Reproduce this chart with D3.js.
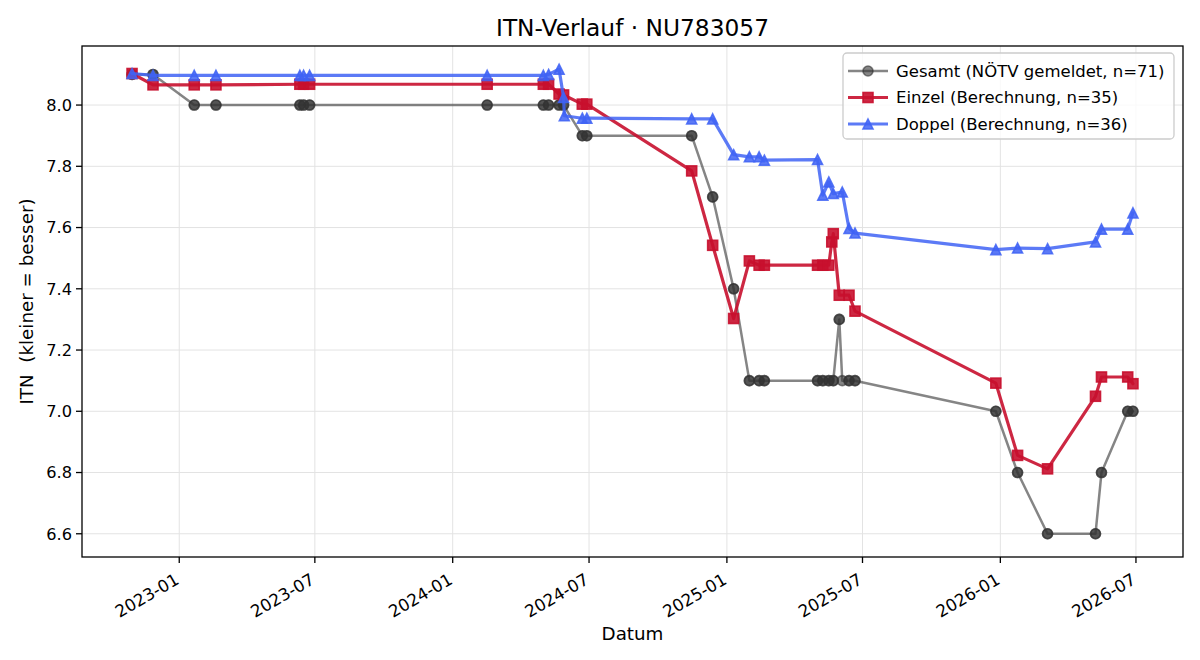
<!DOCTYPE html>
<html>
<head>
<meta charset="utf-8">
<script src="https://cdn.jsdelivr.net/npm/d3@7"></script>
<style>
  body { margin: 0; background: #fff; }
  svg { font-family: "DejaVu Sans", sans-serif; }
</style>
</head>
<body>
<svg id="chart" width="1200" height="660"></svg>
<script>
// Gesamt (reported) - most dates appear twice (once per Einzel / Doppel entry)
var gesamtDates = ['2022-10-30','2022-10-30','2022-11-27','2022-11-27','2023-01-21','2023-01-21','2023-02-19','2023-02-19',
  '2023-06-11','2023-06-11','2023-06-16','2023-06-16','2023-06-24','2023-06-24','2024-02-16','2024-02-16',
  '2024-05-01','2024-05-01','2024-05-08','2024-05-08','2024-05-22','2024-05-22','2024-05-28','2024-05-28',
  '2024-06-22','2024-06-22','2024-06-28','2024-06-28','2024-11-15','2024-11-15','2024-12-13','2024-12-13',
  '2025-01-10','2025-01-10','2025-01-31','2025-01-31','2025-02-13','2025-02-13','2025-02-20','2025-02-20',
  '2025-05-02','2025-05-02','2025-05-09','2025-05-09','2025-05-17','2025-05-17','2025-05-23','2025-05-23',
  '2025-05-31','2025-05-31','2025-06-04','2025-06-13','2025-06-13','2025-06-21','2025-06-21',
  '2025-12-26','2025-12-26','2026-01-24','2026-01-24','2026-03-05','2026-03-05','2026-05-08','2026-05-08',
  '2026-05-16','2026-05-16','2026-06-20','2026-06-20','2026-06-27','2026-06-27'];
var gesamtVals = [8.1,8.1,8.1,8.1,8.0,8.0,8.0,8.0,
  8.0,8.0,8.0,8.0,8.0,8.0,8.0,8.0,
  8.0,8.0,8.0,8.0,8.0,8.0,8.0,8.0,
  7.9,7.9,7.9,7.9,7.9,7.9,7.7,7.7,
  7.4,7.4,7.1,7.1,7.1,7.1,7.1,7.1,
  7.1,7.1,7.1,7.1,7.1,7.1,7.1,7.1,
  7.3,7.3,7.1,7.1,7.1,7.1,7.1,
  7.0,7.0,6.8,6.8,6.6,6.6,6.6,6.6,
  6.8,6.8,7.0,7.0,7.0,7.0];

// Einzel (computed)
var einzelDates = ['2022-10-30','2022-11-27','2023-01-21','2023-02-19','2023-06-11','2023-06-16','2023-06-24',
  '2024-02-16','2024-05-01','2024-05-08','2024-05-22','2024-05-28','2024-06-22','2024-06-28',
  '2024-11-15','2024-12-13','2025-01-10','2025-01-31','2025-02-13','2025-02-20',
  '2025-05-02','2025-05-09','2025-05-17','2025-05-21','2025-05-23','2025-05-31','2025-06-13','2025-06-21',
  '2025-12-26','2026-01-24','2026-03-05','2026-05-08','2026-05-16','2026-06-20','2026-06-27'];
var einzelVals = [8.103,8.066,8.066,8.066,8.068,8.068,8.068,
  8.068,8.068,8.068,8.036,8.033,8.003,8.003,
  7.785,7.542,7.303,7.491,7.477,7.477,
  7.477,7.477,7.477,7.553,7.58,7.379,7.379,7.327,
  7.092,6.856,6.812,7.049,7.112,7.112,7.09];

// Doppel (computed)
var doppelDates = ['2022-10-30','2022-11-27','2023-01-21','2023-02-19','2023-06-11','2023-06-16','2023-06-24',
  '2024-02-16','2024-05-01','2024-05-08','2024-05-22','2024-05-28','2024-05-29','2024-06-22','2024-06-28',
  '2024-11-15','2024-12-13','2025-01-10','2025-01-31','2025-02-13','2025-02-20',
  '2025-05-02','2025-05-09','2025-05-17','2025-05-23','2025-06-04','2025-06-13','2025-06-21',
  '2025-12-26','2026-01-24','2026-03-05','2026-05-08','2026-05-16','2026-06-20','2026-06-27'];
var doppelVals = [8.103,8.097,8.097,8.097,8.097,8.097,8.097,
  8.097,8.097,8.1,8.117,8.025,7.965,7.957,7.957,
  7.955,7.955,7.838,7.831,7.831,7.82,
  7.822,7.706,7.749,7.711,7.716,7.597,7.582,
  7.528,7.533,7.531,7.553,7.595,7.595,7.648];

var yTicks = [6.6, 6.8, 7.0, 7.2, 7.4, 7.6, 7.8, 8.0];
var legendLabels = ['Gesamt (NÖTV gemeldet, n=71)', 'Einzel (Berechnung, n=35)', 'Doppel (Berechnung, n=36)'];

var parse = d3.timeParse('%Y-%m-%d');
function zip(ds, vs) { return ds.map(function(d, i) { return {date: parse(d), v: vs[i]}; }); }

var series = [
  {data: zip(gesamtDates, gesamtVals), color: '#333333', alpha: 0.6, lw: 2.5, marker: 'circle'},
  {data: zip(einzelDates, einzelVals), color: '#c8102e', alpha: 0.9, lw: 3.2, marker: 'square'},
  {data: zip(doppelDates, doppelVals), color: '#3f63f5', alpha: 0.85, lw: 3.2, marker: 'triangle'}
];

var margin = {left: 82, right: 17, top: 46, bottom: 103};
var W = 1200, H = 660;
var iw = W - margin.left - margin.right, ih = H - margin.top - margin.bottom;

var svg = d3.select('#chart');

// matplotlib style 5% padding
var allDates = [], allVals = [];
series.forEach(function(s) { s.data.forEach(function(d) { allDates.push(+d.date); allVals.push(d.v); }); });
var dMin = d3.min(allDates), dMax = d3.max(allDates);
var dPad = (dMax - dMin) * 0.05;
var vMin = d3.min(allVals), vMax = d3.max(allVals);
var vPad = (vMax - vMin) * 0.05;

var x = d3.scaleTime().domain([new Date(dMin - dPad), new Date(dMax + dPad)]).range([margin.left, margin.left + iw]);
var y = d3.scaleLinear().domain([vMin - vPad, vMax + vPad]).range([margin.top + ih, margin.top]);

var xTicks = x.ticks(d3.timeMonth.every(6));

// grid
var grid = svg.append('g').attr('stroke', '#e3e3e3').attr('stroke-width', 1);
xTicks.forEach(function(t) {
  grid.append('line').attr('x1', x(t)).attr('x2', x(t)).attr('y1', margin.top).attr('y2', margin.top + ih);
});
yTicks.forEach(function(t) {
  grid.append('line').attr('x1', margin.left).attr('x2', margin.left + iw).attr('y1', y(t)).attr('y2', y(t));
});

// series
var line = d3.line().x(function(d) { return x(d.date); }).y(function(d) { return y(d.v); });
series.forEach(function(s) {
  var g = svg.append('g');
  g.append('path').datum(s.data)
    .attr('d', line)
    .attr('fill', 'none')
    .attr('stroke', s.color)
    .attr('stroke-opacity', s.alpha)
    .attr('stroke-width', s.lw)
    .attr('stroke-linejoin', 'round')
    .attr('stroke-linecap', 'round');
  s.data.forEach(function(d) {
    drawMarker(g, s.marker, x(d.date), y(d.v), s.color, s.alpha);
  });
});

function drawMarker(g, kind, cx, cy, color, alpha) {
  var m;
  if (kind == 'circle') {
    m = g.append('circle').attr('cx', cx).attr('cy', cy).attr('r', 5);
  } else if (kind == 'square') {
    m = g.append('rect').attr('x', cx - 5).attr('y', cy - 5).attr('width', 10).attr('height', 10);
  } else {
    m = g.append('path').attr('d', 'M' + cx + ',' + (cy - 5) + 'L' + (cx + 5) + ',' + (cy + 5) + 'L' + (cx - 5) + ',' + (cy + 5) + 'Z');
  }
  m.attr('fill', color).attr('fill-opacity', alpha)
   .attr('stroke', color).attr('stroke-opacity', alpha).attr('stroke-width', 1.6)
   .attr('stroke-linejoin', 'miter');
}

// frame
svg.append('rect')
  .attr('x', margin.left).attr('y', margin.top).attr('width', iw).attr('height', ih)
  .attr('fill', 'none').attr('stroke', '#000').attr('stroke-width', 1.3);

// x ticks + rotated labels
var xg = svg.append('g');
xTicks.forEach(function(t) {
  var px = x(t);
  xg.append('line').attr('x1', px).attr('x2', px).attr('y1', margin.top + ih).attr('y2', margin.top + ih + 6)
    .attr('stroke', '#000').attr('stroke-width', 1.3);
  xg.append('text')
    .attr('transform', 'translate(' + (px + 1) + ',' + (margin.top + ih + 26) + ') rotate(-30)')
    .attr('text-anchor', 'end')
    .attr('font-size', 16.8)
    .attr('fill', '#000')
    .text(d3.timeFormat('%Y-%m')(t));
});

// y ticks
var yg = svg.append('g');
yTicks.forEach(function(t) {
  var py = y(t);
  yg.append('line').attr('x1', margin.left - 6).attr('x2', margin.left).attr('y1', py).attr('y2', py)
    .attr('stroke', '#000').attr('stroke-width', 1.3);
  yg.append('text')
    .attr('x', margin.left - 10).attr('y', py).attr('dy', '0.36em')
    .attr('text-anchor', 'end')
    .attr('font-size', 16.2)
    .attr('fill', '#000')
    .text(d3.format('.1f')(t));
});

// axis titles
svg.append('text')
  .attr('x', margin.left + iw / 2).attr('y', 640)
  .attr('text-anchor', 'middle').attr('font-size', 18.3)
  .text('Datum');

svg.append('text')
  .attr('transform', 'translate(33,' + (margin.top + ih / 2) + ') rotate(-90)')
  .attr('text-anchor', 'middle').attr('font-size', 18.3)
  .style('white-space', 'pre')
  .text('ITN  (kleiner = besser)');

svg.append('text')
  .attr('x', margin.left + iw / 2).attr('y', 36)
  .attr('text-anchor', 'middle').attr('font-size', 23.3)
  .text('ITN-Verlauf · NU783057');

// legend
var lg = svg.append('g').attr('transform', 'translate(843,53)');
lg.append('rect').attr('width', 331).attr('height', 86).attr('rx', 4)
  .attr('fill', '#fff').attr('fill-opacity', 0.8)
  .attr('stroke', '#cccccc').attr('stroke-width', 1.3);
series.forEach(function(s, i) {
  var ry = 18 + i * 26.5;
  lg.append('line').attr('x1', 5).attr('x2', 45).attr('y1', ry).attr('y2', ry)
    .attr('stroke', s.color).attr('stroke-opacity', s.alpha).attr('stroke-width', s.lw);
  drawMarker(lg, s.marker, 25, ry, s.color, s.alpha);
  lg.append('text').attr('x', 53).attr('y', ry).attr('dy', '0.36em')
    .attr('font-size', 16.5).attr('fill', '#000')
    .text(legendLabels[i]);
});
</script>
</body>
</html>
